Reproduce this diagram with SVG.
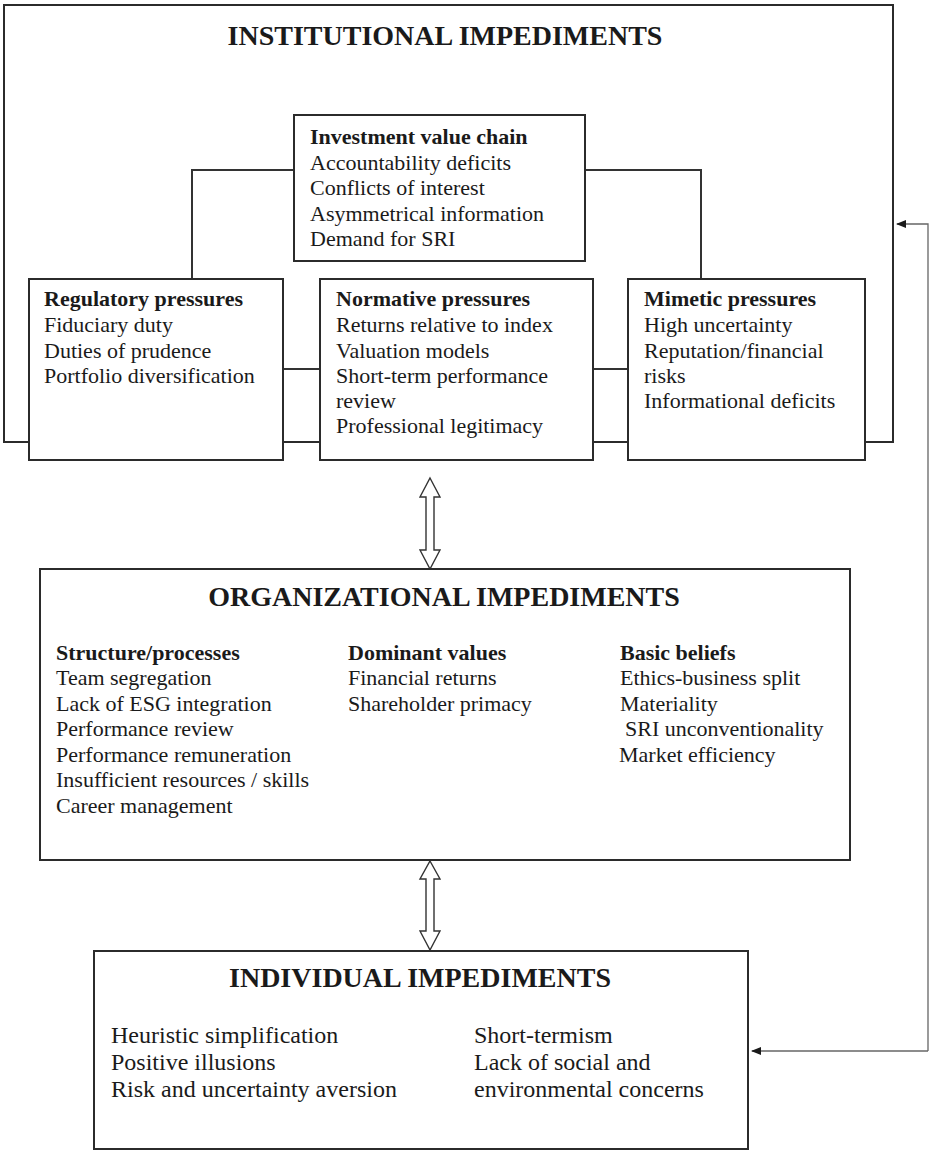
<svg xmlns="http://www.w3.org/2000/svg" width="929" height="1151" viewBox="0 0 929 1151">
<defs>
<style>
.box{fill:#fff;stroke:#2b2b2b;stroke-width:2}
.ln{fill:none;stroke:#333;stroke-width:2}
.fb{fill:none;stroke:#666;stroke-width:1.3}
.dbl{fill:#fff;stroke:#333;stroke-width:1.4;stroke-linejoin:miter}
text{font-family:"Liberation Serif","Times New Roman",serif;fill:#1a1a1a}
.t{font-size:28px;font-weight:bold;text-anchor:middle}
.h{font-size:22px;font-weight:bold}
.b{font-size:22px}
.i{font-size:24px}
</style>
<marker id="ah" markerWidth="10" markerHeight="8" refX="9" refY="4" orient="auto" markerUnits="userSpaceOnUse">
<path d="M0,0 L10,4 L0,8 Z" fill="#1a1a1a"/>
</marker>
</defs>
<rect width="929" height="1151" fill="#fff"/>

<g id="institutional">
<rect class="box" x="4" y="5" width="889" height="437"/>
<text class="t" x="445" y="45">INSTITUTIONAL IMPEDIMENTS</text>
</g>

<g id="connectors">
<polyline class="ln" points="294,170 192,170 192,279"/>
<polyline class="ln" points="585,170 701,170 701,279"/>
<line class="ln" x1="283" y1="369" x2="320" y2="369"/>
<line class="ln" x1="593" y1="369" x2="628" y2="369"/>
<polygon class="dbl" points="430,478 440,497 434,497 434,550 440,550 430,569 420,550 426,550 426,497 420,497"/>
<polygon class="dbl" points="430,861 440,879 434,879 434,931 440,931 430,950 420,931 426,931 426,879 420,879"/>
<polyline class="fb" points="928,1051 752,1051" marker-end="url(#ah)"/>
<polyline class="fb" points="928,1051 928,224 897,224" marker-end="url(#ah)"/>
</g>

<g id="investment-value-chain">
<rect class="box" x="294" y="115" width="291" height="146"/>
<text class="h" x="310" y="144">Investment value chain</text>
<text class="b" x="310" y="170">Accountability deficits</text>
<text class="b" x="310" y="195">Conflicts of interest</text>
<text class="b" x="310" y="221">Asymmetrical information</text>
<text class="b" x="310" y="246">Demand for SRI</text>
</g>

<g id="regulatory-pressures">
<rect class="box" x="29" y="279" width="254" height="181"/>
<text class="h" x="44" y="306">Regulatory pressures</text>
<text class="b" x="44" y="332">Fiduciary duty</text>
<text class="b" x="44" y="358">Duties of prudence</text>
<text class="b" x="44" y="383">Portfolio diversification</text>
</g>

<g id="normative-pressures">
<rect class="box" x="320" y="279" width="273" height="181"/>
<text class="h" x="336" y="306">Normative pressures</text>
<text class="b" x="336" y="332">Returns relative to index</text>
<text class="b" x="336" y="358">Valuation models</text>
<text class="b" x="336" y="383">Short-term performance</text>
<text class="b" x="336" y="408">review</text>
<text class="b" x="336" y="433">Professional legitimacy</text>
</g>

<g id="mimetic-pressures">
<rect class="box" x="628" y="279" width="237" height="181"/>
<text class="h" x="644" y="306">Mimetic pressures</text>
<text class="b" x="644" y="332">High uncertainty</text>
<text class="b" x="644" y="358">Reputation/financial</text>
<text class="b" x="644" y="383">risks</text>
<text class="b" x="644" y="408">Informational deficits</text>
</g>

<g id="organizational">
<rect class="box" x="40" y="569" width="810" height="291"/>
<text class="t" x="444" y="606">ORGANIZATIONAL IMPEDIMENTS</text>
<text class="h" x="56" y="660">Structure/processes</text>
<text class="b" x="56" y="685">Team segregation</text>
<text class="b" x="56" y="711">Lack of ESG integration</text>
<text class="b" x="56" y="736">Performance review</text>
<text class="b" x="56" y="762">Performance remuneration</text>
<text class="b" x="56" y="787">Insufficient resources / skills</text>
<text class="b" x="56" y="813">Career management</text>
<text class="h" x="348" y="660">Dominant values</text>
<text class="b" x="348" y="685">Financial returns</text>
<text class="b" x="348" y="711">Shareholder primacy</text>
<text class="h" x="620" y="660">Basic beliefs</text>
<text class="b" x="620" y="685">Ethics-business split</text>
<text class="b" x="620" y="711">Materiality</text>
<text class="b" x="625" y="736">SRI unconventionality</text>
<text class="b" x="619" y="762">Market efficiency</text>
</g>

<g id="individual">
<rect class="box" x="94" y="951" width="654" height="198"/>
<text class="t" x="420" y="987">INDIVIDUAL IMPEDIMENTS</text>
<text class="i" x="111" y="1043">Heuristic simplification</text>
<text class="i" x="111" y="1070">Positive illusions</text>
<text class="i" x="111" y="1097">Risk and uncertainty aversion</text>
<text class="i" x="474" y="1043">Short-termism</text>
<text class="i" x="474" y="1070">Lack of social and</text>
<text class="i" x="474" y="1097">environmental concerns</text>
</g>
</svg>
